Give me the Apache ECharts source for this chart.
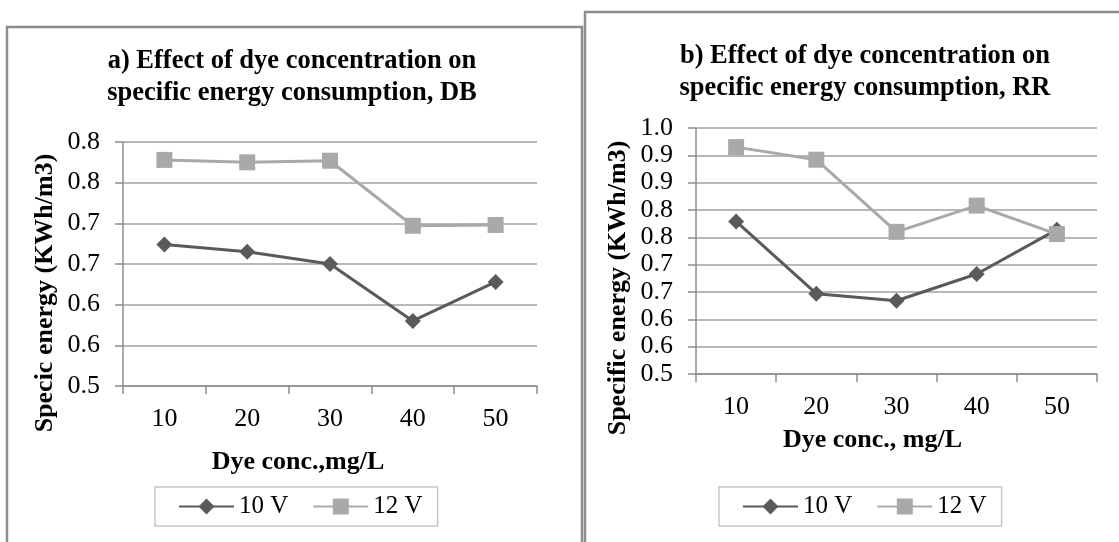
<!DOCTYPE html>
<html>
<head>
<meta charset="utf-8">
<script src="https://cdn.jsdelivr.net/npm/echarts@6/dist/echarts.min.js"></script>
<style>
  html, body { margin: 0; padding: 0; background: #fff; }
  #myChart { width: 1119px; height: 542px; }
</style>
</head>
<body>
<div id="myChart"></div>
<script>
var myChart = echarts.init(document.getElementById('myChart'));

// dye concentration, mg/L
var categories = ['10', '20', '30', '40', '50'];
var seriesNames = ['10 V', '12 V'];

// a) DB
var db10V = [0.674, 0.665, 0.650, 0.580, 0.628];
var db12V = [0.778, 0.775, 0.777, 0.697, 0.698];
// b) RR
var rr10V = [0.779, 0.647, 0.634, 0.683, 0.764];
var rr12V = [0.915, 0.892, 0.760, 0.808, 0.756];

// y labels as printed (rounded to one decimal)
var yTicksA = ['0.5', '0.6', '0.6', '0.7', '0.7', '0.8', '0.8'];
var yTicksB = ['0.5', '0.6', '0.6', '0.7', '0.7', '0.8', '0.8', '0.9', '0.9', '1.0'];

var FONT = "'Liberation Serif', 'Times New Roman', serif";
var C10 = '#5a5a5a', C12 = '#a9a9a9';

function yAxis(idx, name, max, ticks, padR) {
    return {
        gridIndex: idx, type: 'value', min: 0.5, max: max, interval: 0.05,
        name: name, nameLocation: 'middle', nameGap: 65,
        nameTextStyle: {fontFamily: FONT, fontWeight: 'bold', fontSize: 26, color: '#000', padding: [0, padR, 0, 0]},
        axisLine: {show: true, lineStyle: {color: '#8c8c8c', width: 1.5}},
        axisTick: {show: true, length: 8, lineStyle: {color: '#8c8c8c', width: 1.5}},
        splitLine: {lineStyle: {color: '#a0a0a0', width: 1.5}},
        axisLabel: {
            margin: 23, fontFamily: FONT, fontSize: 26, color: '#000',
            formatter: function (v) { return ticks[Math.round((v - 0.5) / 0.05)]; }
        }
    };
}

function xAxis(idx, name, gap, padR) {
    return {
        gridIndex: idx, type: 'category', data: categories, boundaryGap: true,
        name: name, nameLocation: 'middle', nameGap: gap,
        nameTextStyle: {fontFamily: FONT, fontWeight: 'bold', fontSize: 26, color: '#000', padding: [0, padR, 0, 0]},
        axisLine: {lineStyle: {color: '#8c8c8c', width: 1.5}},
        axisTick: {show: true, length: 8, lineStyle: {color: '#8c8c8c', width: 1.5}},
        axisLabel: {margin: 20, fontFamily: FONT, fontSize: 26, color: '#000'}
    };
}

function lineSeries(name, idx, data, color, symbol, size) {
    return {
        name: name, type: 'line', xAxisIndex: idx, yAxisIndex: idx, data: data,
        symbol: symbol, symbolSize: size, animation: false,
        lineStyle: {color: color, width: 3},
        itemStyle: {color: color}
    };
}

function legend(left) {
    return {
        data: seriesNames, left: left, top: 487, orient: 'horizontal',
        padding: [7, 15, 7, 23], itemGap: 24, itemWidth: 55, itemHeight: 20,
        borderColor: '#c8c8c8', borderWidth: 1.5,
        textStyle: {fontFamily: FONT, fontSize: 25, color: '#000'}
    };
}

myChart.setOption({
    backgroundColor: '#fff',
    graphic: [
        {type: 'rect', shape: {x: 7, y: 27, width: 575, height: 540}, style: {fill: '#fff', stroke: '#8c8c8c', lineWidth: 2.5}, z: -10},
        {type: 'rect', shape: {x: 585, y: 12, width: 560, height: 560}, style: {fill: '#fff', stroke: '#8c8c8c', lineWidth: 2.5}, z: -10}
    ],
    title: [
        {text: 'a) Effect of dye concentration on\nspecific energy consumption, DB', left: 287, top: 40, textAlign: 'center',
            textStyle: {fontFamily: FONT, fontWeight: 'bold', fontSize: 26.5, lineHeight: 32, color: '#000'}},
        {text: 'b) Effect of dye concentration on\nspecific energy consumption, RR', left: 860, top: 35, textAlign: 'center',
            textStyle: {fontFamily: FONT, fontWeight: 'bold', fontSize: 26.5, lineHeight: 32, color: '#000'}}
    ],
    legend: [legend(155), legend(719)],
    grid: [
        {left: 123, top: 142, width: 414, height: 244},
        {left: 696, top: 128, width: 401, height: 246}
    ],
    xAxis: [xAxis(0, 'Dye conc.,mg/L', 63, 64), xAxis(1, 'Dye conc., mg/L', 53, 48)],
    yAxis: [yAxis(0, 'Specic energy (KWh/m3)', 0.8, yTicksA, 58), yAxis(1, 'Specific energy (KWh/m3)', 0.95, yTicksB, 74)],
    series: [
        lineSeries('10 V', 0, db10V, C10, 'diamond', 16),
        lineSeries('12 V', 0, db12V, C12, 'rect', 16),
        lineSeries('10 V', 1, rr10V, C10, 'diamond', 16),
        lineSeries('12 V', 1, rr12V, C12, 'rect', 16)
    ]
});
</script>
</body>
</html>
